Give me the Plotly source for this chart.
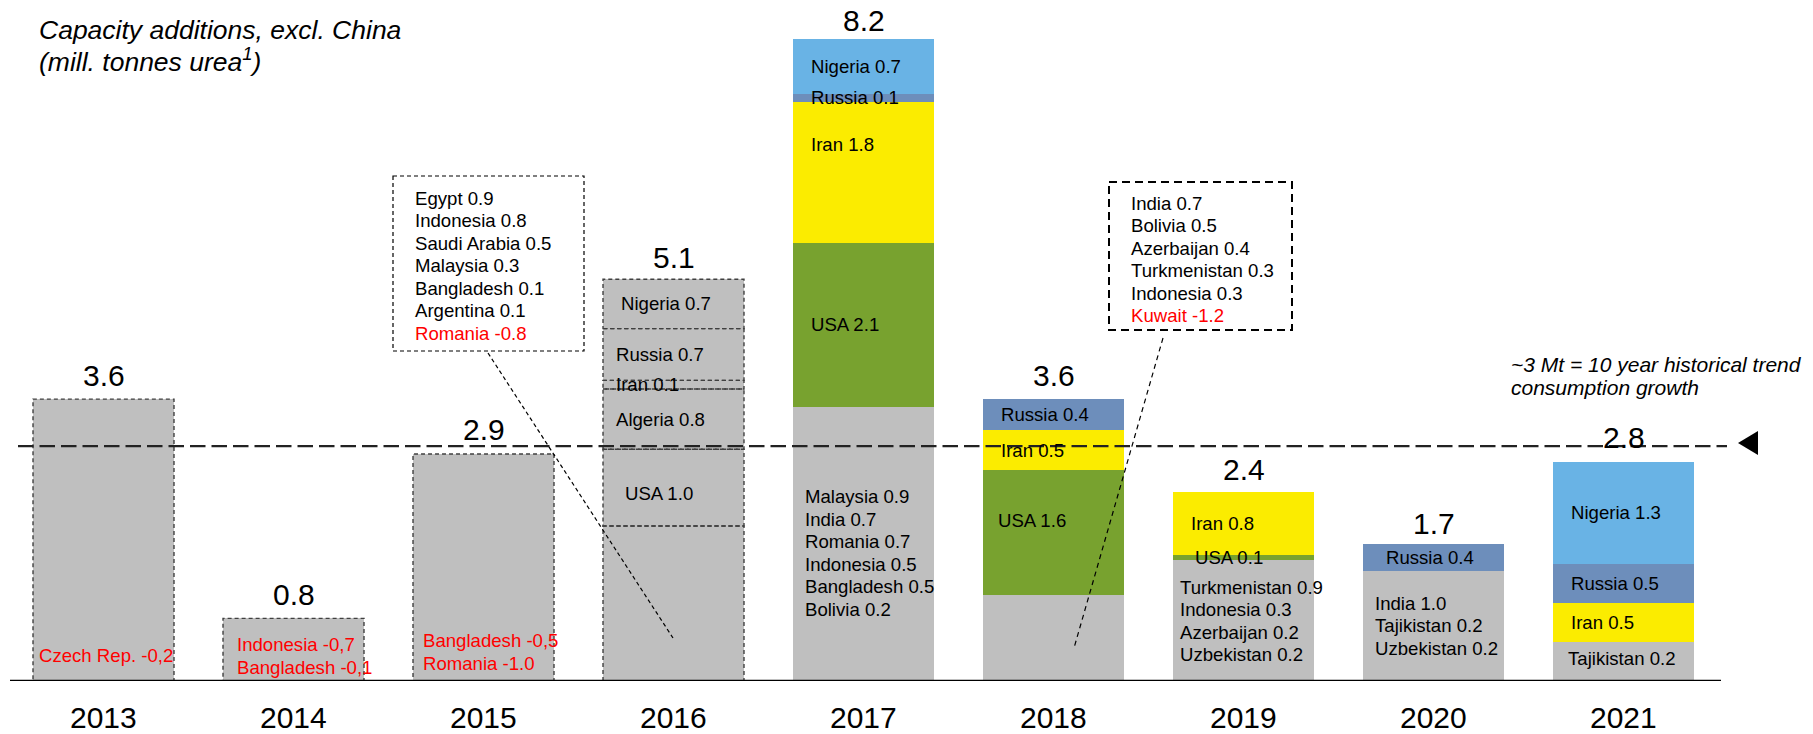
import plotly.graph_objects as go

years = ['2013', '2014', '2015', '2016', '2017', '2018', '2019', '2020', '2021']
totals = [3.6, 0.8, 2.9, 5.1, 8.2, 3.6, 2.4, 1.7, 2.8]
trend = 3.0

# stacked segments, bottom to top
base = [3.6, 0.8, 2.9, 1.98, 3.5, 1.1, 1.55, 1.4, 0.5]
usa = [0, 0, 0, 0.98, 2.1, 1.6, 0.06, 0, 0]
algeria = [0, 0, 0, 0.77, 0, 0, 0, 0, 0]
iran = [0, 0, 0, 0.11, 1.8, 0.5, 0.8, 0, 0.5]
russia = [0, 0, 0, 0.66, 0.1, 0.4, 0, 0.35, 0.5]
nigeria = [0, 0, 0, 0.63, 0.7, 0, 0, 0, 1.3]

usa_txt = ['', '', '', 'USA 1.0', 'USA 2.1', 'USA 1.6', 'USA 0.1', '', '']
algeria_txt = ['', '', '', 'Algeria 0.8', '', '', '', '', '']
iran_txt = ['', '', '', 'Iran 0.1', 'Iran 1.8', 'Iran 0.5', 'Iran 0.8', '', 'Iran 0.5']
russia_txt = ['', '', '', 'Russia 0.7', 'Russia 0.1', 'Russia 0.4', '', 'Russia 0.4', 'Russia 0.5']
nigeria_txt = ['', '', '', 'Nigeria 0.7', 'Nigeria 0.7', '', '', '', 'Nigeria 1.3']

base_txt = [
    ['Czech Rep. -0,2'],
    ['Indonesia -0,7', 'Bangladesh -0,1'],
    ['Bangladesh -0,5', 'Romania -1.0'],
    [],
    ['Malaysia 0.9', 'India 0.7', 'Romania 0.7', 'Indonesia 0.5', 'Bangladesh 0.5', 'Bolivia 0.2'],
    [],
    ['Turkmenistan 0.9', 'Indonesia 0.3', 'Azerbaijan 0.2', 'Uzbekistan 0.2'],
    ['India 1.0', 'Tajikistan 0.2', 'Uzbekistan 0.2'],
    ['Tajikistan 0.2'],
]

callout_2015 = ['Egypt 0.9', 'Indonesia 0.8', 'Saudi Arabia 0.5', 'Malaysia 0.3',
                'Bangladesh 0.1', 'Argentina 0.1', 'Romania -0.8']
callout_2018 = ['India 0.7', 'Bolivia 0.5', 'Azerbaijan 0.4', 'Turkmenistan 0.3',
                'Indonesia 0.3', 'Kuwait -1.2']

title_lines = ['Capacity additions, excl. China', '(mill. tonnes urea<sup>1</sup>)']
trend_lines = ['~3 Mt = 10 year historical trend', 'consumption growth']

GREY = '#BFBFBF'
GREEN = '#78A22F'
YELLOW = '#FBEC00'
STEEL = '#6D8EBB'
SKY = '#69B3E5'
RED = '#FF0000'
FONT = 'Liberation Sans, Arial, sans-serif'
LBL = 18.6  # segment / callout label size

outlined = [0, 1, 2, 3]  # dashed grey bars (2013-2016)

# pixel geometry helpers (1813x734 canvas)
W, H = 1813, 734
X0, DX = 103.5, 190.0
Y0, DY = 681.0, 78.3
BW = 0.742


def xd(px):
    return (px - X0) / DX


def yd(py):
    return (Y0 - py) / DY


xpos = list(range(len(years)))

fig = go.Figure()
layers = [
    (base, [GREY] * 9),
    (usa, [GREY if i == 3 else GREEN for i in xpos]),
    (algeria, [GREY] * 9),
    (iran, [GREY if i == 3 else YELLOW for i in xpos]),
    (russia, [GREY if i == 3 else STEEL for i in xpos]),
    (nigeria, [GREY if i == 3 else SKY for i in xpos]),
]
for vals, cols in layers:
    fig.add_trace(go.Bar(x=xpos, y=vals, width=BW, marker=dict(color=cols, line=dict(width=0)),
                         hoverinfo='skip', showlegend=False))

shapes = []
annos = []

# dashed outlines for segments of outlined bars
for i in outlined:
    bottom = 0
    for vals, _ in layers:
        v = vals[i]
        if v <= 0:
            continue
        shapes.append(dict(type='rect', xref='x', yref='y', x0=i - BW / 2, x1=i + BW / 2,
                           y0=bottom, y1=bottom + v,
                           line=dict(color='#404040', width=1.4, dash='4px,3px')))
        bottom += v

# segment labels
label_layers = [(usa, usa_txt, 1), (algeria, algeria_txt, 2), (iran, iran_txt, 3),
                (russia, russia_txt, 4), (nigeria, nigeria_txt, 5)]
layer_vals = [l[0] for l in layers]
shift_fix = {(4, 3): 28, (5, 1): 12, (3, 1): -6}
xshift_fix = {(6, 1): 20, (7, 4): 21, (5, 1): 13, (3, 1): 20, (3, 4): 11, (3, 2): 11,
              (3, 3): 11, (4, 4): 16}
for vals, txts, li in label_layers:
    for i in xpos:
        if not txts[i]:
            continue
        bottom = sum(layer_vals[k][i] for k in range(li))
        yc = bottom + vals[i] / 2
        annos.append(dict(x=i - BW / 2, y=yc, xref='x', yref='y', text=txts[i], showarrow=False,
                          xanchor='left', yanchor='middle',
                          xshift=xshift_fix.get((i, li), 16), yshift=shift_fix.get((i, li), 0),
                          font=dict(family=FONT, size=LBL, color='black')))

# base (grey) multi-line labels
base_center_px = {0: 655, 1: 656, 2: 652, 4: 553, 6: 621, 7: 625.5, 8: 658}
base_xshift = {0: 4, 1: 12, 2: 8, 4: 10, 6: 5, 7: 10, 8: 13}
LS = 22.5
for i, lines in enumerate(base_txt):
    if not lines:
        continue
    col = RED if i <= 2 else 'black'
    n = len(lines)
    for k, t in enumerate(lines):
        py = base_center_px[i] + (k - (n - 1) / 2) * LS
        annos.append(dict(x=i - BW / 2, y=yd(py), xref='x', yref='y', text=t, showarrow=False,
                          xanchor='left', yanchor='middle', xshift=base_xshift[i],
                          font=dict(family=FONT, size=LBL, color=col)))

# totals above bars
for i in xpos:
    py = max(Y0 - totals[i] * DY - 24, 20)
    annos.append(dict(x=i, y=yd(py), xref='x', yref='y', text=f'{totals[i]:.1f}',
                      showarrow=False, yanchor='middle',
                      font=dict(family=FONT, size=30, color='black')))

# year labels under the baseline
for i in xpos:
    annos.append(dict(x=i, y=0, xref='x', yref='y', text=years[i], showarrow=False,
                      yanchor='middle', yshift=-36,
                      font=dict(family=FONT, size=30, color='black')))

# baseline
shapes.append(dict(type='line', xref='x', yref='y', x0=xd(10), x1=xd(1721), y0=0, y1=0,
                   line=dict(color='black', width=2.5)))
# trend line + arrow
shapes.append(dict(type='line', xref='x', yref='y', x0=xd(18), x1=xd(1727), y0=trend, y1=trend,
                   line=dict(color='#222222', width=2.2, dash='15.5px,6px')))
ty = Y0 - trend * DY
shapes.append(dict(type='path', xref='x', yref='y',
                   path=f'M {xd(1738)},{yd(ty - 3)} L {xd(1758)},{yd(ty - 15)} L {xd(1758)},{yd(ty + 9)} Z',
                   fillcolor='black', line=dict(width=0)))
for k, t in enumerate(trend_lines):
    annos.append(dict(x=xd(1509), y=yd(364 + 23 * k), xref='x', yref='y', xanchor='left',
                      yanchor='middle', text=t, showarrow=False,
                      font=dict(family=FONT, size=21, color='black', style='italic')))

# title
title_y = [30, 60]
for k, t in enumerate(title_lines):
    annos.append(dict(x=xd(37), y=yd(title_y[k]), xref='x', yref='y', xanchor='left',
                      yanchor='middle', text=t, showarrow=False,
                      font=dict(family=FONT, size=26.5, color='black', style='italic')))

# callout boxes
shapes.append(dict(type='rect', xref='x', yref='y', x0=xd(393), x1=xd(584), y0=yd(176), y1=yd(351),
                   line=dict(color='black', width=1.2, dash='4px,3px')))
shapes.append(dict(type='line', xref='x', yref='y', x0=xd(488), y0=yd(353), x1=xd(673), y1=yd(638),
                   line=dict(color='black', width=1.2, dash='4px,3px')))
for k, t in enumerate(callout_2015):
    annos.append(dict(x=xd(413), y=yd(198 + k * LS), xref='x', yref='y', text=t, showarrow=False,
                      xanchor='left', yanchor='middle',
                      font=dict(family=FONT, size=LBL, color=RED if t.startswith('Romania') else 'black')))

shapes.append(dict(type='rect', xref='x', yref='y', x0=xd(1109), x1=xd(1292), y0=yd(182), y1=yd(330),
                   line=dict(color='black', width=2, dash='8px,5px')))
shapes.append(dict(type='line', xref='x', yref='y', x0=xd(1163), y0=yd(338), x1=xd(1074), y1=yd(648),
                   line=dict(color='black', width=1.2, dash='5px,4px')))
for k, t in enumerate(callout_2018):
    annos.append(dict(x=xd(1129), y=yd(203 + k * LS), xref='x', yref='y', text=t, showarrow=False,
                      xanchor='left', yanchor='middle',
                      font=dict(family=FONT, size=LBL, color=RED if t.startswith('Kuwait') else 'black')))

fig.update_layout(
    width=W, height=H,
    margin=dict(l=0, r=0, t=0, b=H - int(Y0)),
    paper_bgcolor='white', plot_bgcolor='white',
    barmode='stack', bargap=0,
    shapes=shapes, annotations=annos,
    xaxis=dict(range=[xd(0), xd(W)], visible=False, automargin=False, fixedrange=True),
    yaxis=dict(range=[0, yd(0)], visible=False, automargin=False, fixedrange=True),
)

# drop the browser's default body margin so the figure sits at the window origin
fig.write_html('out.html', config={'displayModeBar': False},
               post_script="document.body.style.margin='0';document.body.style.overflow='hidden';")
